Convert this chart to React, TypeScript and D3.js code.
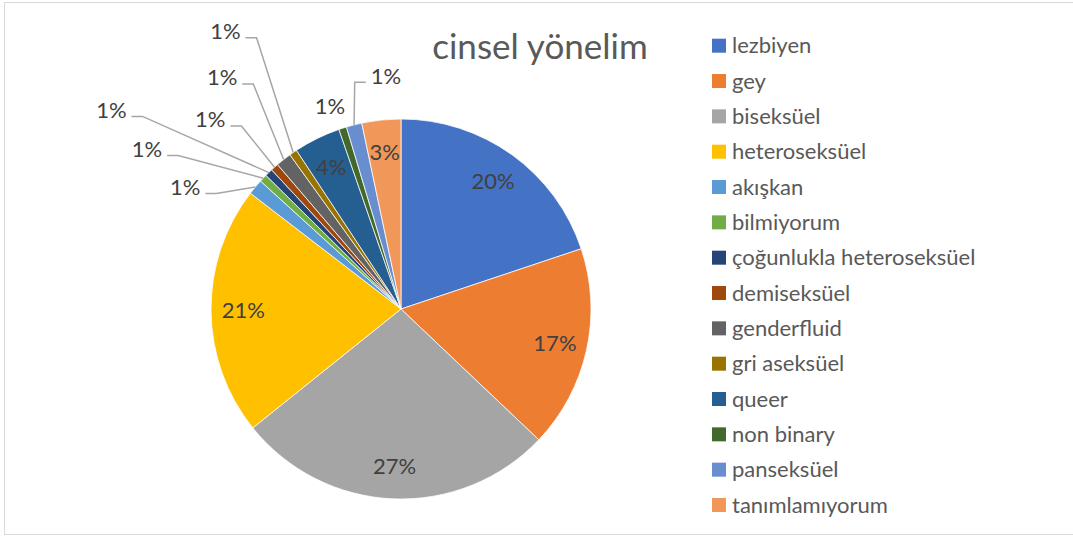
import React, { useEffect, useRef } from 'react';
import * as d3 from 'd3';

const categories = [
  'lezbiyen',
  'gey',
  'biseksüel',
  'heteroseksüel',
  'akışkan',
  'bilmiyorum',
  'çoğunlukla heteroseksüel',
  'demiseksüel',
  'genderfluid',
  'gri aseksüel',
  'queer',
  'non binary',
  'panseksüel',
  'tanımlamıyorum',
];
const counts = [30, 26, 41, 32, 2, 1, 1, 1, 2, 1, 6, 1, 2, 5];
const sliceColors = [
  '#4472C4', '#ED7D31', '#A5A5A5', '#FFC000', '#5B9BD5', '#70AD47', '#264478',
  '#9E480E', '#636363', '#997300', '#255E91', '#43682B', '#698ED0', '#F1975A',
];
const chartTitle = 'cinsel yönelim';

// where the small slices' labels were dragged to: [angle in degrees, radius factor, leader line]
const callouts: Record<string, [number, number, boolean]> = {
  'akışkan': [299.5, 1.305, true],
  'bilmiyorum': [302.2, 1.58, true],
  'çoğunlukla heteroseksüel': [304.5, 1.85, true],
  'demiseksüel': [314.8, 1.415, true],
  'genderfluid': [322.3, 1.54, true],
  'gri aseksüel': [327.7, 1.73, true],
  'non binary': [340.7, 1.13, false],
  'panseksüel': [356.3, 1.23, true],
};

const FONT = 'Lato, "Open Sans", sans-serif';

export default function App() {
  const ref = useRef<SVGSVGElement>(null);

  useEffect(() => {
    const svg = d3.select(ref.current);
    svg.selectAll('*').remove();
    const width = 1073;
    const cx = 401;
    const cy = 309;
    const radius = 190;

    svg
      .append('rect')
      .attr('x', 4.5)
      .attr('y', 2.5)
      .attr('width', width + 10)
      .attr('height', 532)
      .attr('fill', '#fff')
      .attr('stroke', '#D9D9D9')
      .attr('stroke-width', 1);

    const total = d3.sum(counts);
    const data = categories.map((c, i) => ({ name: c, value: counts[i], color: sliceColors[i] }));
    const pie = d3.pie<any>().sort(null).value(d => d.value);
    const arcs = pie(data);
    const arc = d3.arc<any>().innerRadius(0).outerRadius(radius);
    const labelArc = d3.arc<any>().innerRadius(radius * 0.83).outerRadius(radius * 0.83);

    const g = svg.append('g').attr('transform', `translate(${cx},${cy})`);
    g.selectAll('path.slice')
      .data(arcs)
      .join('path')
      .attr('class', 'slice')
      .attr('d', arc)
      .attr('fill', d => d.data.color)
      .attr('stroke', '#fff')
      .attr('stroke-width', 0.75);

    const pct = (v: number) => `${Math.round((v / total) * 100)}%`;

    arcs.forEach(d => {
      const spot = callouts[d.data.name];
      if (!spot) {
        const [x, y] = labelArc.centroid(d);
        g.append('text')
          .attr('x', x)
          .attr('y', y)
          .attr('dy', '0.35em')
          .attr('text-anchor', 'middle')
          .attr('font-family', FONT)
          .attr('font-size', 22)
          .attr('fill', '#404040')
          .text(pct(d.data.value));
        return;
      }
      const [deg, k, withLine] = spot;
      const a = (deg * Math.PI) / 180;
      const lx = Math.sin(a) * radius * k;
      const ly = -Math.cos(a) * radius * k;
      const t = g
        .append('text')
        .attr('x', lx)
        .attr('y', ly)
        .attr('dy', '0.35em')
        .attr('text-anchor', 'middle')
        .attr('font-family', FONT)
        .attr('font-size', 22)
        .attr('fill', '#404040')
        .text(pct(d.data.value));
      if (!withLine) return;
      const w = (t.node() as SVGTextElement).getComputedTextLength();
      const mid = (d.startAngle + d.endAngle) / 2;
      const ex = Math.sin(mid) * radius;
      const ey = -Math.cos(mid) * radius;
      const lineY = ly + 6.5;
      const onLeft = lx < ex;
      const sx = onLeft ? lx + w / 2 + 5 : lx - w / 2 - 5;
      const bx = onLeft ? sx + 11 : sx - 11;
      g.append('polyline')
        .attr('points', `${sx},${lineY} ${bx},${lineY} ${ex},${ey}`)
        .attr('fill', 'none')
        .attr('stroke', '#A6A6A6')
        .attr('stroke-width', 1.5);
    });

    svg
      .append('text')
      .attr('x', 540)
      .attr('y', 59)
      .attr('text-anchor', 'middle')
      .attr('font-family', FONT)
      .attr('font-size', 35)
      .attr('fill', '#595959')
      .text(chartTitle);

    const legendY = d3
      .scalePoint<string>()
      .domain(categories)
      .range([45.7, 505]);
    const legend = svg
      .append('g')
      .selectAll('g')
      .data(data)
      .join('g')
      .attr('transform', d => `translate(712,${legendY(d.name)})`);
    legend
      .append('rect')
      .attr('x', 0)
      .attr('y', -7)
      .attr('width', 14)
      .attr('height', 14)
      .attr('fill', d => d.color);
    legend
      .append('text')
      .attr('x', 20)
      .attr('dy', '0.35em')
      .attr('font-family', FONT)
      .attr('font-size', 22)
      .attr('fill', '#595959')
      .text(d => d.name);
  }, []);

  return (
    <svg
      ref={ref}
      width={1073}
      height={539}
      style={{ position: 'absolute', left: 0, top: 0, display: 'block' }}
    />
  );
}
